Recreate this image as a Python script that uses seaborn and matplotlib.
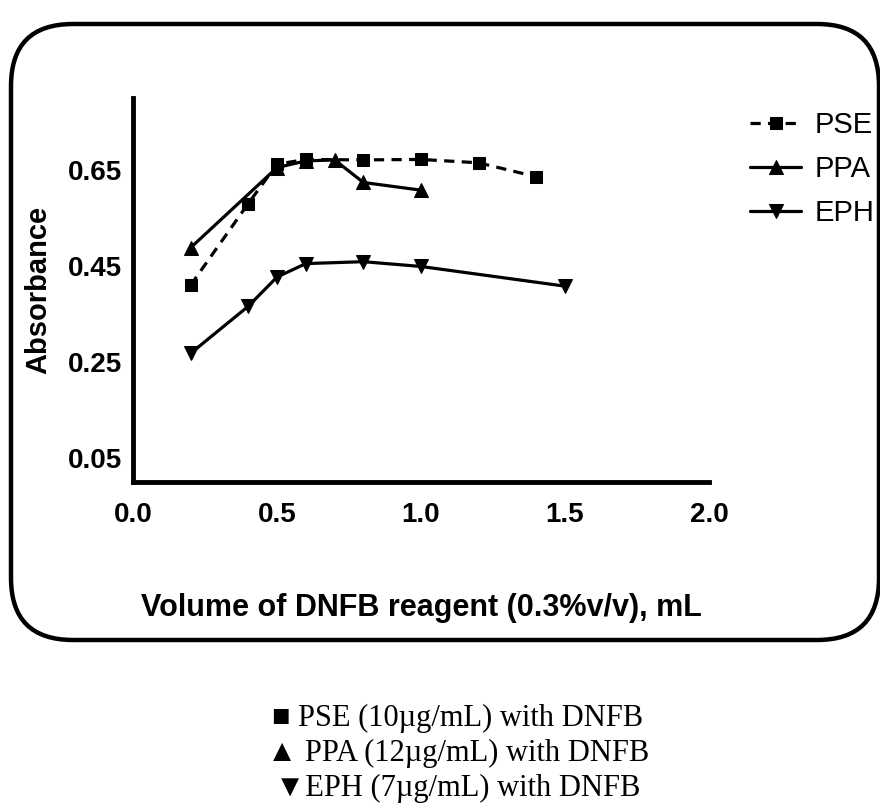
import matplotlib
matplotlib.use("Agg")
import matplotlib.pyplot as plt
import matplotlib.transforms as mtransforms
from matplotlib.patches import FancyBboxPatch
import seaborn as sns
import pandas as pd

# ---- data ----
pse_x = [0.2, 0.4, 0.5, 0.6, 0.8, 1.0, 1.2, 1.4]
pse_y = [0.410, 0.580, 0.662, 0.672, 0.671, 0.672, 0.665, 0.636]
ppa_x = [0.2, 0.5, 0.6, 0.7, 0.8, 1.0]
ppa_y = [0.488, 0.655, 0.669, 0.671, 0.624, 0.608]
eph_x = [0.2, 0.4, 0.5, 0.6, 0.8, 1.0, 1.5]
eph_y = [0.268, 0.366, 0.427, 0.455, 0.459, 0.449, 0.408]
series_names = ["PSE", "PPA", "EPH"]
x_ticks = [0.0, 0.5, 1.0, 1.5, 2.0]
y_ticks = [0.05, 0.25, 0.45, 0.65]
x_label = "Volume of DNFB reagent (0.3%v/v), mL"
y_label = "Absorbance"
caption_lines = ["\u25a0 PSE (10\u00b5g/mL) with DNFB",
                 "\u25b2 PPA (12\u00b5g/mL) with DNFB",
                 "\u25bcEPH (7\u00b5g/mL) with DNFB"]

sns.set_style("white")
plt.rcParams["font.family"] = ["Liberation Sans", "DejaVu Sans"]
plt.rcParams["text.color"] = "black"
plt.rcParams["axes.labelcolor"] = "black"
plt.rcParams["xtick.color"] = "black"
plt.rcParams["ytick.color"] = "black"

W, H = 880, 806
fig = plt.figure(figsize=(W / 100, H / 100), dpi=100)
ax = fig.add_axes([133 / W, 1 - 482 / H, 576 / W, 384 / H])

df_pse = pd.DataFrame({"x": pse_x, "y": pse_y})
df_ppa = pd.DataFrame({"x": ppa_x, "y": ppa_y})
df_eph = pd.DataFrame({"x": eph_x, "y": eph_y})

lw = 2.3
sns.lineplot(data=df_pse, x="x", y="y", ax=ax, color="black", marker="s",
             markersize=8, linewidth=lw, linestyle=(0, (3.2, 2.3)),
             markeredgecolor="black", label=series_names[0])
sns.lineplot(data=df_ppa, x="x", y="y", ax=ax, color="black", marker="^",
             markersize=10, linewidth=lw, markeredgecolor="black",
             label=series_names[1])
sns.lineplot(data=df_eph, x="x", y="y", ax=ax, color="black", marker="v",
             markersize=10, linewidth=lw, markeredgecolor="black",
             label=series_names[2])

ax.set_xlim(0, 2.0)
ax.set_ylim(0, 0.80)
ax.set_xticks(x_ticks)
ax.set_xticklabels([f"{v:.1f}" for v in x_ticks])
ax.set_yticks(y_ticks)
ax.set_yticklabels([f"{v:.2f}" for v in y_ticks])
ax.set_xlabel("")
ax.set_ylabel("")
for s in ["top", "right"]:
    ax.spines[s].set_visible(False)
for s in ["left", "bottom"]:
    ax.spines[s].set_linewidth(3.5)
    ax.spines[s].set_color("black")
ax.tick_params(axis="both", direction="out", length=6, width=3.4,
               color="black", labelcolor="black", labelsize=20)
ax.tick_params(axis="x", pad=8.5)
ax.tick_params(axis="y", pad=2)
for lab in ax.get_xticklabels() + ax.get_yticklabels():
    lab.set_fontweight("bold")

handles, labels = ax.get_legend_handles_labels()
ax.get_legend().remove()
leg = fig.legend(handles, labels, loc="upper left",
                 bbox_to_anchor=(750 / W, 1 - 111 / H),
                 frameon=False, fontsize=21, handlelength=1.75,
                 handletextpad=0.45, labelspacing=0.55, borderpad=0,
                 borderaxespad=0)
for t in leg.get_texts():
    t.set_color("black")

fig.text(38 / W, 1 - 290 / H, y_label, rotation=90, ha="center", va="center",
         fontsize=21, fontweight="bold", color="black")
fig.text(421 / W, 1 - 608 / H, x_label, ha="center", va="center",
         fontsize=22, fontweight="bold", color="black")

for i, line in enumerate(caption_lines):
    fig.text(458 / W, 1 - (718 + 35 * i) / H, line, ha="center", va="center",
             fontsize=22, color="black",
             family=["Liberation Serif", "DejaVu Sans"])

frame = FancyBboxPatch((11, H - 640), 868, 616,
                       boxstyle="round,pad=0,rounding_size=62",
                       transform=mtransforms.IdentityTransform(),
                       facecolor="none", edgecolor="black", linewidth=3.2,
                       clip_on=False)
fig.add_artist(frame)

fig.savefig("out.png", dpi=100)
